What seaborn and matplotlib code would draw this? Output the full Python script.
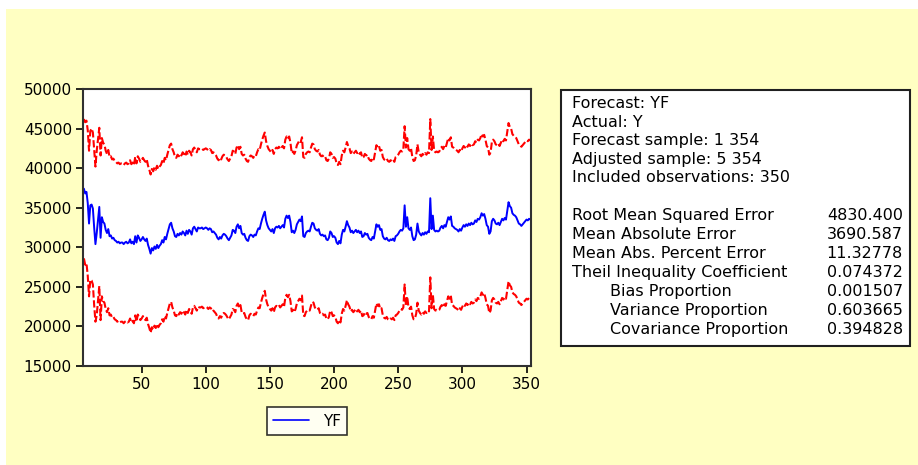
import numpy as np
import pandas as pd
import seaborn as sns
import matplotlib.pyplot as plt
from matplotlib.patches import Rectangle
from matplotlib.lines import Line2D

# observations 5..354 (adjusted sample)
obs = np.arange(5, 355)

# forecast YF, thousands
yf_k = [
    37.4, 36.8, 37.0, 35.6, 33.0, 35.3, 35.4, 34.9, 32.5, 30.4,
    31.8, 33.5, 35.1, 31.2, 33.8, 33.2, 33.0, 32.2, 31.8, 32.3,
    31.4, 31.5, 31.1, 31.2, 30.9, 30.8, 30.6, 30.7, 30.5, 30.6,
    30.6, 30.4, 30.6, 30.7, 30.5, 30.6, 31.0, 30.5, 30.7, 30.4,
    31.4, 30.6, 31.5, 31.2, 30.8, 31.0, 31.3, 31.0, 30.8, 31.1,
    30.3, 29.8, 29.2, 29.9, 29.6, 30.1, 29.8, 30.3, 29.9, 30.2,
    30.4, 30.9, 30.6, 31.3, 31.0, 31.7, 32.3, 32.9, 33.1, 32.4,
    32.0, 31.4, 31.3, 31.7, 31.5, 31.8, 31.6, 32.0, 31.8, 31.5,
    32.1, 31.7, 32.2, 32.0, 31.6, 32.4, 32.6, 32.3, 32.0, 32.5,
    32.4, 32.4, 32.5, 32.3, 32.4, 32.5, 32.4, 32.2, 32.4, 32.3,
    31.9, 32.0, 31.8, 31.6, 31.2, 31.0, 31.3, 31.1, 31.5, 31.7,
    31.6, 31.4, 31.1, 30.9, 31.2, 31.5, 32.2, 32.1, 31.8, 32.6,
    32.9, 32.4, 32.7, 31.8, 31.6, 31.7, 31.2, 30.9, 30.8, 31.4,
    31.6, 31.5, 31.3, 31.6, 31.5, 32.0, 32.4, 32.3, 33.0, 33.6,
    34.1, 34.5, 33.4, 32.8, 32.4, 32.2, 32.0, 32.3, 31.8, 32.4,
    32.6, 32.5, 32.7, 32.4, 32.6, 32.8, 32.5, 33.6, 34.0, 33.7,
    34.0, 33.2, 31.9, 32.1, 31.8, 32.2, 32.9, 33.2, 33.5, 33.3,
    33.9, 31.4, 31.3, 31.8, 32.0, 32.1, 32.0, 32.6, 33.1, 33.0,
    32.4, 32.2, 32.1, 32.3, 31.7, 31.5, 31.6, 31.4, 31.5, 31.0,
    30.9, 31.2, 32.0, 31.8, 31.3, 31.4, 31.2, 30.6, 30.4, 30.8,
    30.5, 31.6, 32.2, 32.0, 32.6, 33.3, 32.8, 32.5, 31.9, 32.1,
    31.8, 32.0, 32.2, 31.9, 32.1, 31.8, 32.0, 31.3, 31.4, 31.8,
    31.6, 31.7, 31.2, 31.0, 30.9, 31.3, 31.1, 32.0, 32.9, 32.6,
    32.8, 32.2, 32.3, 31.4, 31.1, 31.0, 31.2, 30.9, 30.8, 31.0,
    30.9, 31.1, 30.8, 31.4, 31.5, 31.7, 32.0, 32.2, 32.1, 32.4,
    35.3, 32.6, 33.8, 32.4, 32.2, 32.5, 31.4, 30.9, 31.0, 31.6,
    33.0, 32.0, 31.7, 31.5, 31.8, 31.6, 31.9, 31.7, 32.0, 31.9,
    36.2, 32.3, 34.0, 32.2, 32.0, 32.1, 32.0, 32.1, 32.5, 32.7,
    32.4, 32.8, 32.6, 33.2, 33.8, 33.5, 33.9, 32.7, 32.6, 32.4,
    32.3, 32.2, 32.0, 32.3, 32.1, 32.5, 32.8, 32.6, 32.9, 32.7,
    33.0, 32.8, 33.1, 32.9, 33.0, 33.4, 33.2, 33.6, 33.5, 33.8,
    34.3, 34.0, 34.2, 33.6, 32.8, 32.6, 31.7, 32.0, 33.3, 33.6,
    33.4, 33.0, 32.9, 33.1, 32.8, 33.2, 33.6, 33.4, 33.7, 33.5,
    34.6, 35.7, 35.2, 35.0, 34.3, 34.1, 34.0, 33.8, 33.4, 33.0,
    32.9, 32.7, 32.9, 33.1, 33.3, 33.5, 33.4, 33.6, 33.5, 33.7,
]

# forecast standard error, thousands
se_k = [
    4.4, 4.5, 4.5, 4.6, 4.6, 4.7, 4.8, 4.8, 4.9, 4.9,
    5.2, 5.1, 5.0, 5.2, 5.0, 5.0, 5.0, 5.0, 5.0, 5.0,
    5.0, 5.0, 5.0, 5.0, 5.0, 5.0, 5.0, 5.0, 5.0, 5.0,
    5.0, 5.0, 5.0, 5.0, 5.0, 5.0, 5.0, 5.0, 5.0, 5.0,
    5.0, 5.0, 5.0, 5.0, 5.0, 5.0, 5.0, 5.0, 5.0, 5.0,
    5.0, 5.0, 5.0, 5.0, 5.0, 5.0, 5.0, 5.0, 5.0, 5.0,
    5.0, 5.0, 5.0, 5.0, 5.0, 5.0, 5.0, 5.0, 5.0, 5.0,
    5.0, 5.0, 5.0, 5.0, 5.0, 5.0, 5.0, 5.0, 5.0, 5.0,
    5.0, 5.0, 5.0, 5.0, 5.0, 5.0, 5.0, 5.0, 5.0, 5.0,
    5.0, 5.0, 5.0, 5.0, 5.0, 5.0, 5.0, 5.0, 5.0, 5.0,
    5.0, 5.0, 5.0, 5.0, 5.0, 5.0, 5.0, 5.0, 5.0, 5.0,
    5.0, 5.0, 5.0, 5.0, 5.0, 5.0, 5.0, 5.0, 5.0, 5.0,
    5.0, 5.0, 5.0, 5.0, 5.0, 5.0, 5.0, 5.0, 5.0, 5.0,
    5.0, 5.0, 5.0, 5.0, 5.0, 5.0, 5.0, 5.0, 5.0, 5.0,
    5.0, 5.0, 5.0, 5.0, 5.0, 5.0, 5.0, 5.0, 5.0, 5.0,
    5.0, 5.0, 5.0, 5.0, 5.0, 5.0, 5.0, 5.0, 5.0, 5.0,
    5.0, 5.0, 5.0, 5.0, 5.0, 5.0, 5.0, 5.0, 5.0, 5.0,
    5.0, 5.0, 5.0, 5.0, 5.0, 5.0, 5.0, 5.0, 5.0, 5.0,
    5.0, 5.0, 5.0, 5.0, 5.0, 5.0, 5.0, 5.0, 5.0, 5.0,
    5.0, 5.0, 5.0, 5.0, 5.0, 5.0, 5.0, 5.0, 5.0, 5.0,
    5.0, 5.0, 5.0, 5.0, 5.0, 5.0, 5.0, 5.0, 5.0, 5.0,
    5.0, 5.0, 5.0, 5.0, 5.0, 5.0, 5.0, 5.0, 5.0, 5.0,
    5.0, 5.0, 5.0, 5.0, 5.0, 5.0, 5.0, 5.0, 5.0, 5.0,
    5.0, 5.0, 5.0, 5.0, 5.0, 5.0, 5.0, 5.0, 5.0, 5.0,
    5.0, 5.0, 5.0, 5.0, 5.0, 5.0, 5.0, 5.0, 5.0, 5.0,
    5.0, 5.0, 5.0, 5.0, 5.0, 5.0, 5.0, 5.0, 5.0, 5.0,
    5.0, 5.0, 5.0, 5.0, 5.0, 5.0, 5.0, 5.0, 5.0, 5.0,
    5.0, 5.0, 5.0, 5.0, 5.0, 5.0, 5.0, 5.0, 5.0, 5.0,
    5.0, 5.0, 5.0, 5.0, 5.0, 5.0, 5.0, 5.0, 5.0, 5.0,
    5.0, 5.0, 5.0, 5.0, 5.0, 5.0, 5.0, 5.0, 5.0, 5.0,
    5.0, 5.0, 5.0, 5.0, 5.0, 5.0, 5.0, 5.0, 5.0, 5.0,
    5.0, 5.0, 5.0, 5.0, 5.0, 5.0, 5.0, 5.0, 5.0, 5.0,
    5.0, 5.0, 5.0, 5.0, 5.0, 5.0, 5.0, 5.0, 5.0, 5.0,
    5.0, 5.0, 5.0, 5.0, 5.0, 5.0, 5.0, 5.0, 5.0, 5.0,
    5.0, 5.0, 5.0, 5.0, 5.0, 5.0, 5.0, 5.0, 5.0, 5.0,
]

x_ticks = [50, 100, 150, 200, 250, 300, 350]
y_ticks = [15000, 20000, 25000, 30000, 35000, 40000, 45000, 50000]

info_lines = [
    "Forecast: YF",
    "Actual: Y",
    "Forecast sample: 1 354",
    "Adjusted sample: 5 354",
    "Included observations: 350",
]
stat_names = [
    "Root Mean Squared Error",
    "Mean Absolute Error",
    "Mean Abs. Percent Error",
    "Theil Inequality Coefficient",
    "Bias Proportion",
    "Variance Proportion",
    "Covariance Proportion",
]
stat_values = ["4830.400", "3690.587", "11.32778", "0.074372",
               "0.001507", "0.603665", "0.394828"]

df = pd.DataFrame({"obs": obs, "yf": np.array(yf_k) * 1000, "se": np.array(se_k) * 1000})
df["upper"] = df["yf"] + 2 * df["se"]
df["lower"] = df["yf"] - 2 * df["se"]

sns.set_style("ticks")
plt.rcParams["font.family"] = ["DejaVu Sans"]
plt.rcParams["text.color"] = "black"

W, H = 918, 465
fig = plt.figure(figsize=(W / 100, H / 100), dpi=100)
fig.patch.set_facecolor("white")
fig.patches.append(Rectangle((6 / W, 0), 1 - 6 / W, 1 - 9 / H, transform=fig.transFigure,
                             facecolor="#FFFFC2", edgecolor="none", zorder=-5))

ax = fig.add_axes([83 / W, 1 - 366 / H, 448 / W, 277 / H])
ax.set_zorder(2)
ax.set_facecolor("white")

red_ls = (0, (3.5, 1.3))
sns.lineplot(data=df, x="obs", y="upper", ax=ax, color="#FF0000", linewidth=1.5)
sns.lineplot(data=df, x="obs", y="lower", ax=ax, color="#FF0000", linewidth=1.5)
sns.lineplot(data=df, x="obs", y="yf", ax=ax, color="#0000FF", linewidth=1.4)
for ln in ax.lines[:2]:
    ln.set_linestyle(red_ls)

ax.set_xlim(4.3, 353.5)
ax.set_ylim(15000, 50000)
ax.set_xticks(x_ticks)
ax.set_yticks(y_ticks)
ax.set_xlabel("")
ax.set_ylabel("")
ax.tick_params(direction="out", length=5, width=1.2, labelsize=11, colors="black",
               labelcolor="black", pad=3)
for s in ax.spines.values():
    s.set_visible(True)
    s.set_color("#303030")
    s.set_linewidth(1.5)

# legend
handle = Line2D([], [], color="#0000FF", linewidth=1.2)
leg = fig.legend([handle], ["YF"], loc="center", bbox_to_anchor=(307 / W, 1 - 421 / H),
                 frameon=True, fancybox=False, fontsize=11, handlelength=2.4,
                 borderpad=0.4, handletextpad=0.9)
leg.get_frame().set_edgecolor("black")
leg.get_frame().set_linewidth(1.2)
for t in leg.get_texts():
    t.set_color("black")

# statistics box
fig.patches.append(Rectangle((561 / W, 1 - 346 / H), 349 / W, 256 / H, transform=fig.transFigure,
                             facecolor="white", edgecolor="#202020", linewidth=1.5, zorder=1))
fs = 11.5
for i, t in enumerate(info_lines):
    fig.text(572 / W, 1 - (104 + i * 18.4) / H, t, fontsize=fs, va="center", ha="left", zorder=2)
for i, (n, v) in enumerate(zip(stat_names, stat_values)):
    y = 1 - (215.5 + i * 19.0) / H
    xl = 572 if i < 4 else 610
    fig.text(xl / W, y, n, fontsize=fs, va="center", ha="left", zorder=2)
    fig.text(903 / W, y, v, fontsize=fs, va="center", ha="right", zorder=2)

fig.savefig("out.png", dpi=100)
